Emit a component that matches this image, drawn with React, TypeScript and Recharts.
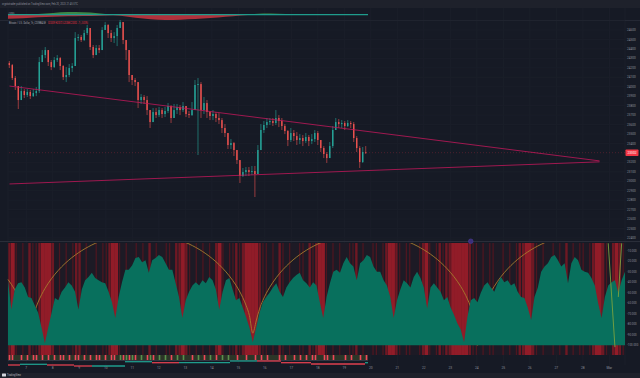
import React from 'react';
import {
  ComposedChart, Bar, Line, Area, XAxis, YAxis, CartesianGrid, ReferenceLine, ReferenceDot,
} from 'recharts';

const BG = '#161a25';
const PANEL = '#1e212b';
const TXT = '#8c909b';
const UP = '#26a69a';
const DOWN = '#ef5350';
const TREND = '#c2185b';

// ---------- time axis (days) ----------
const dayTicks = [7, 8, 9, 10, 11, 12, 13, 14, 15, 16, 17, 18, 19, 20, 21, 22, 23, 24, 25, 26, 27, 28, 29];
const dayLabels = ['7', '8', '9', '10', '11', '12', '13', '14', '15', '16', '17', '18', '19', '20', '21', '22', '23', '24', '25', '26', '27', '28', 'Mar'];
const dayDomain = [6.31, 29.59];

// ---------- price pane ----------
const priceTicks = [22400, 22500, 22600, 22700, 22800, 22900, 23000, 23100, 23200, 23400, 23500, 23600, 23700, 23800, 23900, 24000, 24100, 24200, 24300, 24400, 24500, 24600];
const priceDomain = [22378, 24706];
const firstOpen = 24250;
const closes = [
  24229, 24092, 24007, 23859, 23954, 23912, 23944, 23901, 23933, 23954,
  24261, 24335, 24388, 24261, 24208, 24282, 24303, 24219, 24102, 24124,
  24198, 24219, 24515, 24526, 24494, 24568, 24621, 24420, 24335, 24409,
  24388, 24600, 24653, 24568, 24515, 24536, 24621, 24684, 24494, 24388,
  24124, 24071, 24049, 23859, 23891, 23859, 23753, 23626, 23732, 23700,
  23753, 23711, 23743, 23796, 23669, 23753, 23785, 23753, 23796, 23711,
  23700, 23753, 24018, 24028, 23753, 23827, 23732, 23690, 23711, 23669,
  23647, 23563, 23510, 23383, 23404, 23330, 23224, 23055, 23097, 23118,
  23097, 23108, 23076, 23330, 23542, 23595, 23626, 23637, 23616, 23669,
  23637, 23584, 23531, 23436, 23510, 23478, 23436, 23457, 23425, 23468,
  23425, 23446, 23510, 23436, 23351, 23288, 23245, 23372, 23542, 23626,
  23605, 23616, 23584, 23616, 23605, 23457, 23351, 23203, 23309, 23302,
];
const highs = [
  24272, 24240, 24113, 23986, 24007, 23975, 23975, 23965, 23975, 23997,
  24314, 24388, 24420, 24367, 24282, 24314, 24335, 24314, 24229, 24208,
  24240, 24250, 24578, 24557, 24547, 24600, 24653, 24621, 24441, 24441,
  24441, 24631, 24684, 24663, 24600, 24578, 24653, 24716, 24684, 24473,
  24282, 24102, 24092, 23922, 23922, 23912, 23901, 23753, 23774, 23774,
  23785, 23774, 23785, 23827, 23806, 23817, 23817, 23806, 23838, 23764,
  23743, 23838, 24071, 24092, 24049, 23891, 23859, 23743, 23753, 23732,
  23721, 23669, 23605, 23489, 23446, 23415, 23309, 23171, 23140, 23150,
  23150, 23161, 23161, 23383, 23605, 23637, 23669, 23669, 23669, 23753,
  23700, 23669, 23605, 23542, 23563, 23542, 23520, 23499, 23489, 23510,
  23489, 23499, 23542, 23531, 23436, 23372, 23309, 23415, 23584, 23669,
  23658, 23647, 23637, 23647, 23637, 23626, 23478, 23372, 23362, 23372,
];
const lows = [
  24198, 24071, 23965, 23764, 23859, 23880, 23891, 23870, 23891, 23901,
  23933, 24261, 24303, 24219, 24176, 24198, 24261, 24176, 24071, 24049,
  24102, 24155, 24219, 24483, 24473, 24483, 24547, 24388, 24303, 24356,
  24356, 24388, 24600, 24515, 24473, 24462, 24430, 24621, 24451, 24282,
  24049, 24018, 24007, 23774, 23817, 23817, 23700, 23563, 23669, 23669,
  23679, 23669, 23679, 23721, 23616, 23690, 23711, 23700, 23732, 23679,
  23669, 23690, 23774, 23277, 23669, 23711, 23669, 23647, 23647, 23626,
  23605, 23510, 23468, 23341, 23341, 23267, 23182, 22981, 23044, 23055,
  23055, 23066, 22833, 23097, 23330, 23510, 23563, 23595, 23584, 23595,
  23573, 23542, 23499, 23372, 23415, 23425, 23383, 23393, 23372, 23404,
  23372, 23393, 23415, 23383, 23309, 23245, 23193, 23245, 23351, 23542,
  23563, 23563, 23542, 23573, 23563, 23415, 23309, 23140, 23193, 23288,
];
const futureSlots = 86;
const lastPrice = 23302;
const trendSlots = [0, 197];
const upperTrend = [24007, 23215];
const lowerTrend = [22971, 23205];

// ---------- top oscillator strip ----------
const stripGreen = [0, 0, 8, 18, 26, 24, 15, 3, 0, 0, 0, 0, 0, 0, 0, 0, 2, 12, 10, 6, 4, 3, 3, 3, 3];
const stripRed = [-40, -35, -25, -20, -16, -13, -10, -6, -20, -38, -50, -52, -46, -38, -28, -16, -4, 0, 0, 0, 0, 0, 0, 0, 0];
const stripDomain = [-53, 67];

// ---------- lower pane ----------
const oscValues = [
  -38, -66, -47, -41, -40, -45, -54, -55, -62, -69,
  -83, -98, -83, -69, -55, -57, -49, -45, -40, -43,
  -49, -66, -47, -38, -35, -31, -36, -38, -40, -41,
  -49, -59, -74, -54, -40, -28, -28, -24, -17, -16,
  -21, -19, -31, -19, -17, -14, -16, -22, -28, -28,
  -41, -54, -74, -57, -49, -43, -40, -43, -38, -41,
  -35, -38, -47, -66, -49, -38, -36, -47, -57, -55,
  -64, -73, -83, -97, -83, -69, -59, -54, -50, -45,
  -41, -49, -54, -45, -40, -36, -33, -31, -38, -41,
  -45, -40, -43,
  -59, -74, -54, -41, -30, -28, -31, -22, -16, -22,
  -25, -38, -22, -19, -14, -16, -25, -30, -30, -38,
  -43, -54, -74, -57, -47, -38, -41, -45, -35, -30,
  -36, -45, -65, -45, -41, -45, -49, -57, -54, -64,
  -71, -79, -85, -97, -73, -57, -55, -59, -50, -43,
  -40, -45, -49, -41, -35, -40, -38, -43, -41, -49,
  -54, -55, -64, -76, -54, -45, -30, -25, -22, -16,
  -14, -19, -25, -22, -41, -22, -16, -19, -28, -30,
  -31, -36, -43, -60, -74, -54, -43, -40, -38, -50,
  -38, -30,
];
const heatLevels = [
  2, 3, 1, 0, 1, 0, 2, 1, 1, 2,
  3, 3, 3, 2, 0, 1, 0, 1, 0, 1,
  2, 2, 0, 1, 0, 0, 1, 0, 1, 1,
  2, 3, 3, 1, 0, 1, 0, 0, 1, 0,
  1, 0, 2, 0, 1, 0, 0, 1, 1, 0,
  2, 2, 3, 2, 1, 0, 1, 0, 1, 0,
  1, 0, 2, 3, 1, 0, 1, 1, 2, 1,
  2, 3, 3, 3, 3, 2, 1, 1, 0, 1,
  0, 2, 1, 0, 1, 0, 0, 1, 1, 0,
  2, 1, 2,
  3, 3, 1, 0, 1, 0, 1, 0, 0, 1,
  1, 2, 0, 1, 0, 0, 1, 1, 0, 1,
  2, 3, 3, 2, 1, 0, 1, 1, 0, 0,
  1, 2, 3, 1, 0, 1, 2, 1, 2, 2,
  3, 3, 3, 3, 3, 2, 1, 1, 0, 1,
  0, 1, 1, 0, 0, 1, 0, 1, 0, 1,
  2, 2, 3, 3, 2, 1, 0, 1, 0, 0,
  1, 0, 1, 0, 2, 0, 1, 0, 1, 1,
  0, 1, 2, 3, 3, 2, 1, 0, 2, 3,
  2, 1,
];
const oscTicks = [-10, -20, -30, -40, -50, -60, -70, -80, -90, -100];
const oscDomain = [-109.2, -2.66];
const oscBase = -100;
const arcRise = 106.5;
const cycleLows = [-60.4, 6.4, 73.2, 140, 206.8];
const vLineA = { x: [179, 181], y: [-2.9, -101.7] };
const vLineB = { x: [182, 183], y: [-54, -2.9] };
const eventIndex = 138;

// ---------- bottom tick strip & step lines ----------
const tickCodes = [
  2, 2, 0, 0, 2, 0, 2, 0, 2, 2,
  0, 2, 0, 2, 0, 2, 0, 2, 2, 0,
  2, 0, 2, 2, 0, 2, 0, 2, 0, 2,
  2, 0, 2, 0, 2, 2, 0, 1, 2, 1,
  2, 1, 2, 0, 1, 0, 2, 1, 2, 0,
  1, 0, 1, 0, 2, 0, 1, 0, 1, 0,
  0, 2, 0, 1, 0, 2, 0, 1, 0, 2,
  0, 1, 0, 1, 0, 0, 2, 0, 0, 2,
  0, 0, 2, 0, 2, 0, 2, 0, 0, 0,
  2, 0, 2, 0, 0, 2, 0, 2, 0, 2,
  0, 2, 2, 0, 0, 2, 2, 0, 2, 0,
  0, 0, 2, 0, 2, 0, 0, 2, 0, 2,
];
const segStart = [0, 4, 13, 22, 28, 39, 48, 57, 74, 83, 91, 101, 119];
const segEnd = [4, 13, 22, 28, 39, 48, 57, 74, 83, 91, 101, 119, 120];
const segLevel = [5, 5.7, 5, 4, 4, 8.3, 7.3, 7.3, 9, 9, 7.3, 6, 7.3];
const segSide = ['bear', 'bull', 'bear', 'bear', 'bull', 'bull', 'bear', 'bull', 'bull', 'bear', 'bear', 'bear', 'bull'];

// ---------- tables ----------
const dayRows = dayTicks.map((d) => ({ d, y: 0.5 }));

const priceRows = Array.from({ length: closes.length + futureSlots }, (_, t) => {
  if (t >= closes.length) return { t };
  const open = t === 0 ? firstOpen : closes[t - 1];
  const close = closes[t];
  const high = Math.max(highs[t], open, close);
  const low = Math.min(lows[t], open, close);
  return { t, open, close, high, low, hl: [low, high] };
});

const stripRows = stripGreen.map((g, i) => ({ i, g, r: stripRed[i] }));

const arcAt = (i: number) => {
  for (let k = 0; k < cycleLows.length - 1; k++) {
    const a = cycleLows[k];
    const b = cycleLows[k + 1];
    if (i >= a && i <= b) {
      const c = (a + b) / 2;
      const h = (b - a) / 2;
      const u = (i - c) / h;
      return oscBase + arcRise * Math.sqrt(Math.max(0, 1 - u * u));
    }
  }
  return null;
};

const oscRows = oscValues.map((v, i) => ({
  i,
  v,
  heat: heatLevels[i],
  full: [oscDomain[0], oscDomain[1]],
  arc: arcAt(i),
}));

const tickRows = tickCodes.map((c, t) => ({ t, c, one: 1 }));
const stepRows = Array.from({ length: 121 }, (_, t) => ({ t }));

// ---------- shapes ----------
const Candle = (p: any) => {
  const { x, y, width, height, payload } = p;
  if (!payload || payload.high == null || !isFinite(y) || !isFinite(height)) return null;
  const h = Math.abs(height);
  const top = height >= 0 ? y : y + height;
  const span = payload.high - payload.low;
  const k = span > 0 ? h / span : 0;
  const bTop = top + (payload.high - Math.max(payload.open, payload.close)) * k;
  const bH = Math.max(Math.abs(payload.open - payload.close) * k, 0.7);
  const col = payload.close >= payload.open ? UP : DOWN;
  const cx = x + width / 2;
  return (
    <g>
      <line x1={cx} x2={cx} y1={top} y2={top + h} stroke={col} strokeWidth={0.6} />
      <rect x={cx - 0.7} y={bTop} width={1.4} height={bH} fill={col} />
    </g>
  );
};

const heatColor = ['transparent', '#4d1620', '#6e1823', '#911c28'];
const heatWidth = [0, 1.3, 2.4, 3.8];
const HeatStripe = (p: any) => {
  const { x, y, width, height, payload } = p;
  const lvl = payload ? payload.heat : 0;
  if (!lvl || !isFinite(x)) return null;
  const w = heatWidth[lvl];
  return <rect x={x + width / 2 - w / 2} y={y} width={w} height={Math.abs(height)} fill={heatColor[lvl]} />;
};

const tickColor = ['transparent', '#5a8f4c', '#f0475a'];
const TickMark = (p: any) => {
  const { x, y, width, height, payload } = p;
  const c = payload ? payload.c : 0;
  if (!c || !isFinite(x)) return null;
  return <rect x={x + width / 2 - 0.8} y={y} width={1.6} height={Math.abs(height)} fill={tickColor[c]} />;
};

const PriceTag = (p: any) => {
  const vb = p.viewBox || {};
  const x = (vb.x || 0) + (vb.width || 0);
  const y = vb.y || 0;
  return (
    <g>
      <rect x={x + 0.5} y={y - 3.3} width={13} height={6.6} rx={0.8} fill="#f23645" />
      <text x={x + 7} y={y + 1.1} fontSize={3.2} fill="#ffffff" textAnchor="middle">{lastPrice}</text>
    </g>
  );
};

const RightTick = (p: any) => (
  <text x={p.x} y={p.y} dy={1.1} fontSize={3.1} fill={TXT} textAnchor="start">
    {p.payload.value}
  </text>
);
const OscTick = (p: any) => (
  <text x={p.x} y={p.y} dy={1.1} fontSize={2.9} fill={TXT} textAnchor="start">
    {Number(p.payload.value).toFixed(3)}
  </text>
);
const TimeTick = (p: any) => {
  const idx = dayTicks.indexOf(p.payload.value);
  return (
    <text x={p.x} y={p.y} dy={2.4} fontSize={3.3} fill={TXT} textAnchor="middle">
      {idx >= 0 ? dayLabels[idx] : ''}
    </text>
  );
};

const abs = (top: number, left = 0): React.CSSProperties => ({ position: 'absolute', top, left });

export default function App() {
  return (
    <div style={{ position: 'fixed', left: 0, top: 0, width: 640, height: 378, background: BG, overflow: 'hidden', fontFamily: 'Roboto, sans-serif' }}>
      <div style={{ position: 'absolute', left: 0, top: 0, width: 640, height: 8, background: PANEL }} />
      <div style={{ position: 'absolute', left: 0, top: 373, width: 640, height: 5, background: PANEL }} />

      {/* grid + time axis */}
      <div style={abs(0)}>
        <ComposedChart width={640} height={378} data={dayRows} margin={{ top: 8, right: 15, bottom: 0, left: 8 }}>
          <CartesianGrid horizontal={false} stroke="#1b1f2a" />
          <XAxis type="number" dataKey="d" domain={dayDomain} ticks={dayTicks} allowDataOverflow interval={0}
            height={13} tickLine={false} axisLine={false} tickSize={0} tickMargin={2} tick={(p: any) => <TimeTick {...p} />} />
          <YAxis hide domain={[0, 1]} />
          <Line dataKey="y" stroke="none" dot={false} isAnimationActive={false} />
        </ComposedChart>
      </div>

      <div style={{ position: 'absolute', left: 0, top: 19.5, width: 640, height: 1, background: '#242834' }} />
      <div style={{ position: 'absolute', left: 0, top: 241, width: 640, height: 1, background: '#2a2e39' }} />

      {/* header */}
      <svg style={abs(0)} width={640} height={30}>
        <text x={2} y={5.2} fontSize={3} fill={TXT} textLength={76} lengthAdjust="spacingAndGlyphs">
          cryptotrader published on TradingView.com, Feb 20, 2023 21:45 UTC
        </text>
        <rect x={8} y={12.2} width={7} height={3.6} rx={0.5} fill="#2a2e39" />
        <text x={11.5} y={15} fontSize={2.6} fill={TXT} textAnchor="middle">100</text>
      </svg>

      {/* top oscillator strip */}
      <div style={abs(8)}>
        <ComposedChart width={368} height={12} data={stripRows} margin={{ top: 0, right: 0, bottom: 0, left: 8 }}>
          <XAxis dataKey="i" hide />
          <YAxis hide domain={stripDomain} allowDataOverflow />
          <Area dataKey="r" type="monotone" stroke="none" fill="#b8333d" fillOpacity={0.95} isAnimationActive={false} />
          <Area dataKey="g" type="monotone" stroke="none" fill="#3f8f4a" fillOpacity={0.95} isAnimationActive={false} />
          <ReferenceLine segment={[{ x: 0, y: 0 }, { x: stripGreen.length - 1, y: 0 }]} stroke="#1f9c8c" strokeWidth={1.2} />
        </ComposedChart>
      </div>

      {/* main price pane */}
      <div style={abs(20)}>
        <ComposedChart width={640} height={220} data={priceRows} margin={{ top: 0, right: 0, bottom: 0, left: 8 }}>
          <CartesianGrid vertical={false} stroke="#1a1e29" />
          <XAxis dataKey="t" hide />
          <YAxis orientation="right" width={15} domain={priceDomain} ticks={priceTicks} allowDataOverflow interval={0}
            tickLine={false} axisLine={false} tickSize={0} tickMargin={2} tick={(p: any) => <RightTick {...p} />} />
          <Bar dataKey="hl" shape={(p: any) => <Candle {...p} />} isAnimationActive={false} />
          <ReferenceLine segment={[{ x: trendSlots[0], y: upperTrend[0] }, { x: trendSlots[1], y: upperTrend[1] }]} stroke={TREND} strokeWidth={0.8} />
          <ReferenceLine segment={[{ x: trendSlots[0], y: lowerTrend[0] }, { x: trendSlots[1], y: lowerTrend[1] }]} stroke={TREND} strokeWidth={0.8} />
          <ReferenceLine y={lastPrice} stroke="#f23645" strokeOpacity={0.35} strokeDasharray="1 2" strokeWidth={0.7}
            label={(p: any) => <PriceTag {...p} />} />
        </ComposedChart>
      </div>

      <svg style={abs(20)} width={200} height={8}>
        <text x={9} y={3.8} fontSize={2.8} fill="#a3a6af" textLength={37} lengthAdjust="spacingAndGlyphs">Bitcoin / U.S. Dollar, 1h, COINBASE</text>
        <text x={48} y={3.8} fontSize={2.8} fill="#f23645" textLength={40} lengthAdjust="spacingAndGlyphs">O23309 H23372 L23288 C23302 −7 (−0.03%)</text>
      </svg>

      {/* lower pane: red background stripes */}
      <div style={{ position: 'absolute', left: 8, top: 243, width: 617, height: 112, background: '#1d1a25' }} />
      <div style={abs(243)}>
        <ComposedChart width={640} height={112} data={oscRows} margin={{ top: 0, right: 15, bottom: 0, left: 8 }} barCategoryGap={0} barGap={0}>
          <XAxis dataKey="i" hide />
          <YAxis hide domain={oscDomain} allowDataOverflow />
          <Bar dataKey="full" shape={(p: any) => <HeatStripe {...p} />} isAnimationActive={false} />
        </ComposedChart>
      </div>

      {/* lower pane: cycle arcs */}
      <div style={abs(236)}>
        <ComposedChart width={640} height={119} data={oscRows} margin={{ top: 7, right: 15, bottom: 0, left: 8 }}>
          <XAxis dataKey="i" hide />
          <YAxis hide domain={oscDomain} allowDataOverflow />
          <Line dataKey="arc" type="monotone" stroke="#a67c2e" strokeWidth={0.9} dot={false} isAnimationActive={false} />
        </ComposedChart>
      </div>

      {/* lower pane: area */}
      <div style={abs(236)}>
        <ComposedChart width={640} height={119} data={oscRows} margin={{ top: 7, right: 0, bottom: 0, left: 8 }}>
          <XAxis dataKey="i" hide />
          <YAxis orientation="right" width={15} domain={oscDomain} ticks={oscTicks} allowDataOverflow interval={0}
            tickLine={false} axisLine={false} tickSize={0} tickMargin={2} tick={(p: any) => <OscTick {...p} />} />
          <Area dataKey="v" type="linear" baseValue={oscBase} stroke="none" fill="#08705d" fillOpacity={1} isAnimationActive={false} />
          <ReferenceLine segment={[{ x: vLineA.x[0], y: vLineA.y[0] }, { x: vLineA.x[1], y: vLineA.y[1] }]} stroke="#7aa33f" strokeWidth={0.9} ifOverflow="visible" />
          <ReferenceLine segment={[{ x: vLineB.x[0], y: vLineB.y[0] }, { x: vLineB.x[1], y: vLineB.y[1] }]} stroke="#7aa33f" strokeWidth={0.9} ifOverflow="visible" />
          <ReferenceDot x={eventIndex} y={-1} r={2.3} fill="#3a2f7a" stroke="#4b3d99" strokeWidth={0.6} ifOverflow="visible" />
        </ComposedChart>
      </div>

      {/* bottom tick strip */}
      <div style={{ position: 'absolute', left: 8, top: 355, width: 360, height: 5, background: '#2b3527' }} />
      <div style={abs(355)}>
        <ComposedChart width={368} height={5} data={tickRows} margin={{ top: 0, right: 0, bottom: 0, left: 8 }} barCategoryGap={0}>
          <XAxis dataKey="t" hide />
          <YAxis hide domain={[0, 1]} />
          <Bar dataKey="one" shape={(p: any) => <TickMark {...p} />} isAnimationActive={false} />
        </ComposedChart>
      </div>

      {/* step lines */}
      <div style={abs(360)}>
        <ComposedChart width={368} height={8} data={stepRows} margin={{ top: 0, right: 0, bottom: 0, left: 8 }}>
          <XAxis dataKey="t" hide />
          <YAxis hide domain={[2, 10]} allowDataOverflow />
          <Line dataKey="none" stroke="none" dot={false} isAnimationActive={false} />
          <ReferenceLine segment={[{ x: 0, y: 10 }, { x: 120, y: 10 }]} stroke="#6b6f7a" strokeWidth={0.7} ifOverflow="visible" />
          {segStart.map((s, k) => (
            <ReferenceLine key={k} segment={[{ x: s, y: segLevel[k] }, { x: segEnd[k], y: segLevel[k] }]}
              stroke={segSide[k] === 'bull' ? '#1f9c8c' : '#e0404f'} strokeWidth={1.3} ifOverflow="visible" />
          ))}
        </ComposedChart>
      </div>

      {/* footer */}
      <svg style={abs(372)} width={60} height={6}>
        <rect x={2} y={1.5} width={4} height={3} rx={0.5} fill="#d1d4dc" />
        <text x={7} y={4.3} fontSize={2.8} fill="#b2b5be" textLength={14} lengthAdjust="spacingAndGlyphs">TradingView</text>
      </svg>
    </div>
  );
}
